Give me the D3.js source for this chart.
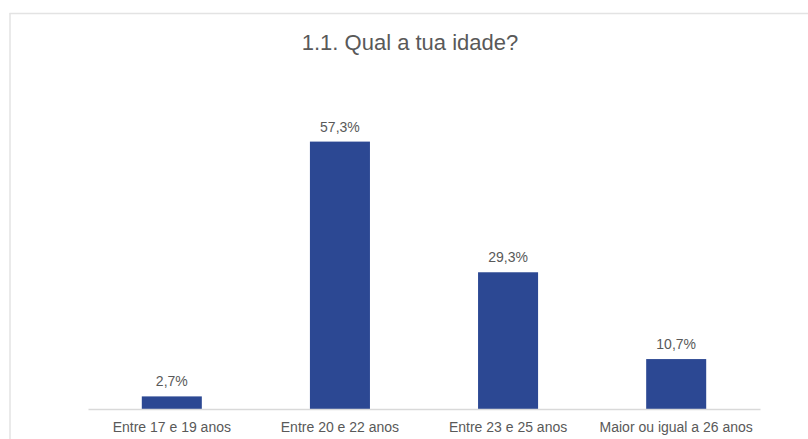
<!DOCTYPE html>
<html>
<head>
<meta charset="utf-8">
<script src="https://cdn.jsdelivr.net/npm/d3@7"></script>
<style>
  body { margin: 0; background: #fff; }
  svg { display: block; font-family: "Liberation Sans", Arial, sans-serif; }
</style>
</head>
<body>
<svg width="808" height="439"></svg>
<script>
"use strict"
const categories = ["Entre 17 e 19 anos", "Entre 20 e 22 anos", "Entre 23 e 25 anos", "Maior ou igual a 26 anos"]
const values = [2.7, 57.3, 29.3, 10.7]
const valueLabels = ["2,7%", "57,3%", "29,3%", "10,7%"]

let svg = d3.select("svg"),
    width = +svg.attr("width"),
    height = +svg.attr("height")

// chart frame (only top and left edges show in the screenshot)
svg.append("line").attr("x1", 9.5).attr("x2", width).attr("y1", 13.5).attr("y2", 13.5)
  .attr("stroke", "#e3e3e3").attr("stroke-width", 1.5)
svg.append("line").attr("x1", 10).attr("x2", 10).attr("y1", 13).attr("y2", height)
  .attr("stroke", "#e3e3e3").attr("stroke-width", 1.5)

svg.append("text")
  .attr("x", 410).attr("y", 50)
  .attr("text-anchor", "middle")
  .attr("font-size", 22)
  .attr("fill", "#595959")
  .text("1.1. Qual a tua idade?")

let x = d3.scaleBand().domain(categories).range([88, 760]).paddingInner(0.643).paddingOuter(0.32)
let y = d3.scaleLinear().domain([0, 60]).range([409, 129])

svg.selectAll(".bar")
  .data(values)
  .enter().append("rect")
    .attr("class", "bar")
    .attr("x", (d, i) => x(categories[i]))
    .attr("y", d => y(d))
    .attr("width", x.bandwidth())
    .attr("height", d => y(0) - y(d))
    .attr("fill", "#2c4893")

svg.selectAll(".val")
  .data(values)
  .enter().append("text")
    .attr("class", "val")
    .attr("x", (d, i) => x(categories[i]) + x.bandwidth() / 2)
    .attr("y", d => y(d) - 10)
    .attr("text-anchor", "middle")
    .attr("font-size", 14)
    .attr("fill", "#595959")
    .text((d, i) => valueLabels[i])

let axis = svg.append("g")
  .attr("transform", "translate(0," + y(0) + ")")
  .call(d3.axisBottom(x).tickSize(0).tickPadding(13))
axis.select(".domain").attr("stroke", "#d9d9d9").attr("stroke-width", 1.3)
axis.selectAll("text")
  .attr("font-size", 14)
  .attr("fill", "#595959")
  .attr("font-family", "Liberation Sans, Arial, sans-serif")
</script>
</body>
</html>
